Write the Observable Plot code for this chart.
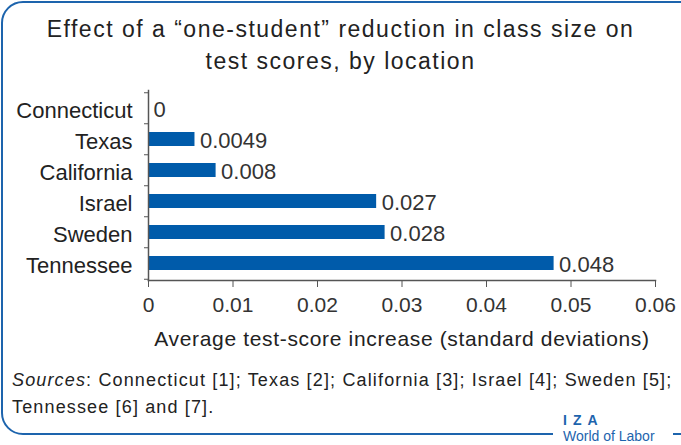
<!DOCTYPE html>
<html>
<head>
<meta charset="utf-8">
<script src="https://cdn.jsdelivr.net/npm/d3@7"></script>
<script src="https://cdn.jsdelivr.net/npm/@observablehq/plot@0.6"></script>
<style>
  html, body { margin: 0; padding: 0; background: #fff; }
  body { width: 681px; height: 445px; position: relative; overflow: hidden; font-family: "Liberation Sans", Arial, sans-serif; color: #222; }
  #frame { position: absolute; left: 1px; top: 1px; width: 700px; height: 430px; border: 2.5px solid #1d64ad; border-radius: 22px; box-sizing: content-box; }
  #title { position: absolute; left: 0; width: 681px; top: 13px; text-align: center; font-size: 23px; letter-spacing: 1.5px; line-height: 32px; color: #222; }
  #chart { position: absolute; left: 0; top: 80px; }
  #sources { position: absolute; left: 12px; top: 367px; font-size: 18px; letter-spacing: 1.15px; line-height: 27px; color: #222; white-space: nowrap; }
  #logoMask { position: absolute; left: 553px; top: 425px; width: 120px; height: 20px; background: #fff; }
  #logo { position: absolute; left: 563px; top: 412px; color: #1d64ad; }
  #logo .iza { font-size: 14px; font-weight: bold; letter-spacing: 6px; line-height: 16px; }
  #logo .wol { font-size: 14px; line-height: 16px; }
</style>
</head>
<body>
<div id="frame"></div>
<div id="logoMask"></div>
<div id="title">Effect of a “one-student” reduction in class size on<br>test scores, by location</div>
<div id="chart"></div>
<div id="sources"><i>Sources</i>: Connecticut [1]; Texas [2]; California [3]; Israel [4]; Sweden [5];<br>Tennessee [6] and [7].</div>
<div id="logo"><div class="iza">IZA</div><div class="wol">World of Labor</div></div>
<script>
const locations = ["Connecticut", "Texas", "California", "Israel", "Sweden", "Tennessee"];
const values = [0, 0.0055, 0.008, 0.027, 0.028, 0.048];
const valueLabels = ["0", "0.0049", "0.008", "0.027", "0.028", "0.048"];
const xTicks = [0, 0.01, 0.02, 0.03, 0.04, 0.05, 0.06];
const xTickLabels = ["0", "0.01", "0.02", "0.03", "0.04", "0.05", "0.06"];
const xLabel = "Average test-score increase (standard deviations)";

const data = locations.map((loc, i) => ({location: loc, value: values[i], label: valueLabels[i]}));
const step = 189 / locations.length;

const chart = Plot.plot({
  width: 681,
  height: 275,
  marginTop: 10,
  marginBottom: 75,
  marginLeft: 148,
  marginRight: 26,
  style: {fontFamily: "'Liberation Sans', Arial, sans-serif", color: "#222", background: "transparent", overflow: "visible"},
  x: {domain: [0, 0.06]},
  y: {domain: locations, paddingInner: 0.55, paddingOuter: 0.275},
  marks: [
    Plot.barX(data, {x: "value", y: "location", fill: "#005baa"}),
    Plot.text(data, {x: "value", y: "location", text: "label", textAnchor: "start", dx: 5, dy: 1.5, fontSize: 22, fill: "#333"}),
    Plot.axisY({tickSize: 0, tickPadding: 16, fontSize: 22, dy: 2, label: null, fill: "#222"}),
    Plot.axisY({tickSize: 4, tickFormat: () => "", dy: -step / 2, label: null, stroke: "#555"}),
    Plot.axisY({ticks: ["Tennessee"], tickSize: 4, tickFormat: () => "", dy: step / 2, label: null, stroke: "#555"}),
    Plot.axisX({ticks: xTicks, tickFormat: d => xTickLabels[xTicks.indexOf(d)], tickSize: 7, tickPadding: 10, fontSize: 21, stroke: "#555", fill: "#333", label: null}),
    Plot.text([xLabel], {text: d => d, frameAnchor: "bottom", dy: 65, fontSize: 21, fill: "#222"}),
    Plot.frame({anchor: "left", stroke: "#555", strokeWidth: 1.5}),
    Plot.frame({anchor: "bottom", stroke: "#555", strokeWidth: 1.5})
  ]
});
d3.select(chart).selectAll("text").filter(function() { return this.textContent === xLabel; }).style("letter-spacing", "0.66px");
document.getElementById("chart").appendChild(chart);
</script>
</body>
</html>
